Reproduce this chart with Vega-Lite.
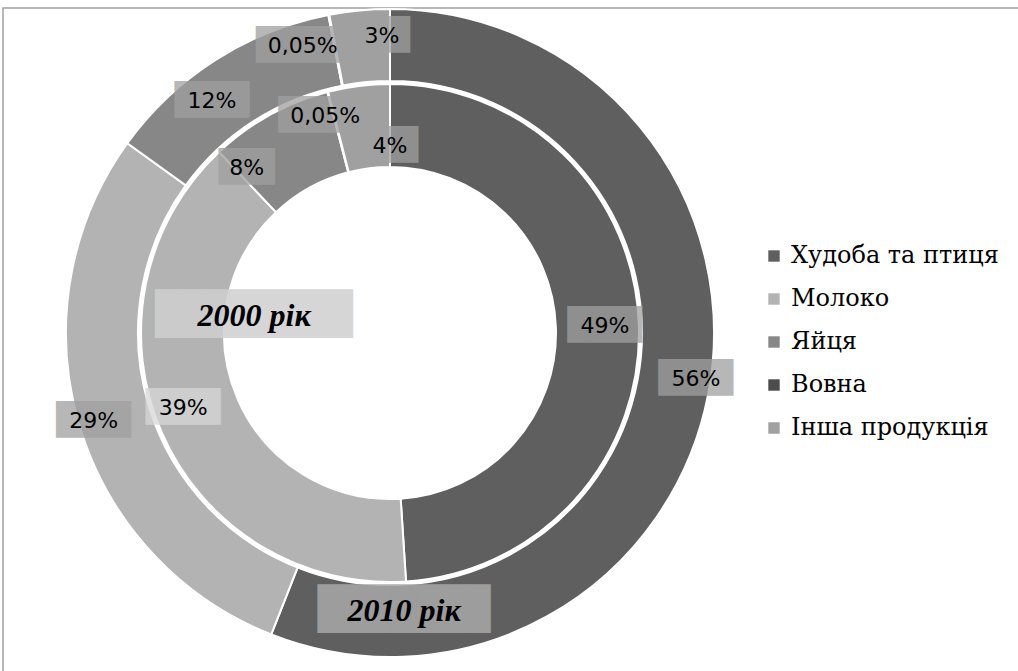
{
  "$schema": "https://vega.github.io/schema/vega-lite/v6.json",
  "width": 1016,
  "height": 668,
  "padding": {"left": 3, "top": 5, "right": 0, "bottom": 0},
  "background": "white",
  "view": {"stroke": "#a0a0a0", "strokeWidth": 1.5},
  "config": {
    "locale": {"number": {"decimal": ",", "thousands": " ", "grouping": [3], "currency": ["", " грн"]}}
  },
  "datasets": {
    "shares": [
      {"ring": "outer", "year": "2010", "n": 1, "category": "Худоба та птиця", "value": 0.56},
      {"ring": "outer", "year": "2010", "n": 2, "category": "Молоко", "value": 0.29},
      {"ring": "outer", "year": "2010", "n": 3, "category": "Яйця", "value": 0.12},
      {"ring": "outer", "year": "2010", "n": 4, "category": "Вовна", "value": 0.0005},
      {"ring": "outer", "year": "2010", "n": 5, "category": "Інша продукція", "value": 0.03},
      {"ring": "inner", "year": "2000", "n": 1, "category": "Худоба та птиця", "value": 0.49},
      {"ring": "inner", "year": "2000", "n": 2, "category": "Молоко", "value": 0.39},
      {"ring": "inner", "year": "2000", "n": 3, "category": "Яйця", "value": 0.08},
      {"ring": "inner", "year": "2000", "n": 4, "category": "Вовна", "value": 0.0005},
      {"ring": "inner", "year": "2000", "n": 5, "category": "Інша продукція", "value": 0.04}
    ],
    "years": [
      {"ring": "inner", "title": "2000 рік"},
      {"ring": "outer", "title": "2010 рік"}
    ]
  },
  "layer": [
    {
      "data": {"name": "shares"},
      "transform": [{"filter": "datum.ring == 'outer'"}],
      "mark": {"type": "arc", "x": 387, "y": 325, "outerRadius": 324, "innerRadius": 252, "stroke": "white", "strokeWidth": 2},
      "encoding": {
        "theta": {"field": "value", "type": "quantitative", "stack": true},
        "order": {"field": "n", "type": "quantitative"},
        "color": {
          "field": "category", "type": "nominal",
          "scale": {
            "domain": ["Худоба та птиця", "Молоко", "Яйця", "Вовна", "Інша продукція"],
            "range": ["#5f5f5f", "#b3b3b3", "#878787", "#4d4d4d", "#a0a0a0"]
          },
          "legend": {
            "orient": "none", "legendX": 759, "legendY": 236, "title": null,
            "symbolType": "square", "symbolSize": 130, "symbolStrokeWidth": 0,
            "labelFont": "DejaVu Serif", "labelFontSize": 24, "labelColor": "black", "labelLimit": 400,
            "rowPadding": 19, "padding": 0, "labelOffset": 5
          }
        }
      }
    },
    {
      "data": {"name": "shares"},
      "transform": [{"filter": "datum.ring == 'inner'"}],
      "mark": {"type": "arc", "x": 387, "y": 325, "outerRadius": 249, "innerRadius": 166, "stroke": "white", "strokeWidth": 2},
      "encoding": {
        "theta": {"field": "value", "type": "quantitative", "stack": true},
        "order": {"field": "n", "type": "quantitative"},
        "color": {"field": "category", "type": "nominal"}
      }
    },
    {
      "data": {"name": "shares"},
      "transform": [{"filter": "datum.ring == 'outer'"}],
      "encoding": {
        "theta": {"field": "value", "type": "quantitative", "stack": true},
        "order": {"field": "n", "type": "quantitative"},
        "detail": {"field": "category", "type": "nominal"}
      },
      "layer": [
        {"mark": {"type": "text", "x": 387, "y": 325, "radius": 288, "dx": 23, "dy": -8, "font": "DejaVu Sans Mono", "fontSize": 31, "color": "#a0a0a0", "opacity": 0.75},
         "encoding": {"text": {"condition": {"test": "datum.n == 1", "value": "████"}, "value": ""}}},
        {"mark": {"type": "text", "x": 387, "y": 325, "radius": 288, "dx": -20, "dy": 7, "font": "DejaVu Sans Mono", "fontSize": 31, "color": "#a0a0a0", "opacity": 0.75},
         "encoding": {"text": {"condition": {"test": "datum.n == 2", "value": "████"}, "value": ""}}},
        {"mark": {"type": "text", "x": 387, "y": 325, "radius": 288, "dx": -23, "dy": 11, "font": "DejaVu Sans Mono", "fontSize": 31, "color": "#a0a0a0", "opacity": 0.75},
         "encoding": {"text": {"condition": {"test": "datum.n == 3", "value": "████"}, "value": ""}}},
        {"mark": {"type": "text", "x": 387, "y": 325, "radius": 288, "dx": -33, "dy": -4, "font": "DejaVu Sans Mono", "fontSize": 31, "color": "#a0a0a0", "opacity": 0.75},
         "encoding": {"text": {"condition": {"test": "datum.n == 4", "value": "█████"}, "value": ""}}},
        {"mark": {"type": "text", "x": 387, "y": 325, "radius": 288, "dx": 19, "dy": -10, "font": "DejaVu Sans Mono", "fontSize": 31, "color": "#a0a0a0", "opacity": 0.75},
         "encoding": {"text": {"condition": {"test": "datum.n == 5", "value": "███"}, "value": ""}}},
        {"mark": {"type": "text", "x": 387, "y": 325, "radius": 288, "dx": 23, "dy": -8, "font": "DejaVu Sans", "fontSize": 22, "color": "black"},
         "encoding": {"text": {"condition": {"test": "datum.n == 1", "field": "value", "type": "quantitative", "format": ".2~%"}, "value": ""}}},
        {"mark": {"type": "text", "x": 387, "y": 325, "radius": 288, "dx": -20, "dy": 7, "font": "DejaVu Sans", "fontSize": 22, "color": "black"},
         "encoding": {"text": {"condition": {"test": "datum.n == 2", "field": "value", "type": "quantitative", "format": ".2~%"}, "value": ""}}},
        {"mark": {"type": "text", "x": 387, "y": 325, "radius": 288, "dx": -23, "dy": 11, "font": "DejaVu Sans", "fontSize": 22, "color": "black"},
         "encoding": {"text": {"condition": {"test": "datum.n == 3", "field": "value", "type": "quantitative", "format": ".2~%"}, "value": ""}}},
        {"mark": {"type": "text", "x": 387, "y": 325, "radius": 288, "dx": -33, "dy": -4, "font": "DejaVu Sans", "fontSize": 22, "color": "black"},
         "encoding": {"text": {"condition": {"test": "datum.n == 4", "field": "value", "type": "quantitative", "format": ".2~%"}, "value": ""}}},
        {"mark": {"type": "text", "x": 387, "y": 325, "radius": 288, "dx": 19, "dy": -10, "font": "DejaVu Sans", "fontSize": 22, "color": "black"},
         "encoding": {"text": {"condition": {"test": "datum.n == 5", "field": "value", "type": "quantitative", "format": ".2~%"}, "value": ""}}}
      ]
    },
    {
      "data": {"name": "shares"},
      "transform": [{"filter": "datum.ring == 'inner'"}],
      "encoding": {
        "theta": {"field": "value", "type": "quantitative", "stack": true},
        "order": {"field": "n", "type": "quantitative"},
        "detail": {"field": "category", "type": "nominal"}
      },
      "layer": [
        {"mark": {"type": "text", "x": 387, "y": 325, "radius": 207, "dx": 8, "dy": 0, "font": "DejaVu Sans Mono", "fontSize": 31, "color": "#a0a0a0", "opacity": 0.75},
         "encoding": {"text": {"condition": {"test": "datum.n == 1", "value": "████"}, "value": ""}}},
        {"mark": {"type": "text", "x": 387, "y": 325, "radius": 207, "dx": -17, "dy": -8, "font": "DejaVu Sans Mono", "fontSize": 31, "color": "#d8d8d8", "opacity": 0.75},
         "encoding": {"text": {"condition": {"test": "datum.n == 2", "value": "████"}, "value": ""}}},
        {"mark": {"type": "text", "x": 387, "y": 325, "radius": 207, "dx": -43, "dy": 16, "font": "DejaVu Sans Mono", "fontSize": 31, "color": "#a0a0a0", "opacity": 0.75},
         "encoding": {"text": {"condition": {"test": "datum.n == 3", "value": "███"}, "value": ""}}},
        {"mark": {"type": "text", "x": 387, "y": 325, "radius": 207, "dx": -13, "dy": -17, "font": "DejaVu Sans Mono", "fontSize": 31, "color": "#a0a0a0", "opacity": 0.75},
         "encoding": {"text": {"condition": {"test": "datum.n == 4", "value": "█████"}, "value": ""}}},
        {"mark": {"type": "text", "x": 387, "y": 325, "radius": 207, "dx": 26, "dy": 18, "font": "DejaVu Sans Mono", "fontSize": 31, "color": "#a0a0a0", "opacity": 0.75},
         "encoding": {"text": {"condition": {"test": "datum.n == 5", "value": "███"}, "value": ""}}},
        {"mark": {"type": "text", "x": 387, "y": 325, "radius": 207, "dx": 8, "dy": 0, "font": "DejaVu Sans", "fontSize": 22, "color": "black"},
         "encoding": {"text": {"condition": {"test": "datum.n == 1", "field": "value", "type": "quantitative", "format": ".2~%"}, "value": ""}}},
        {"mark": {"type": "text", "x": 387, "y": 325, "radius": 207, "dx": -17, "dy": -8, "font": "DejaVu Sans", "fontSize": 22, "color": "black"},
         "encoding": {"text": {"condition": {"test": "datum.n == 2", "field": "value", "type": "quantitative", "format": ".2~%"}, "value": ""}}},
        {"mark": {"type": "text", "x": 387, "y": 325, "radius": 207, "dx": -43, "dy": 16, "font": "DejaVu Sans", "fontSize": 22, "color": "black"},
         "encoding": {"text": {"condition": {"test": "datum.n == 3", "field": "value", "type": "quantitative", "format": ".2~%"}, "value": ""}}},
        {"mark": {"type": "text", "x": 387, "y": 325, "radius": 207, "dx": -13, "dy": -17, "font": "DejaVu Sans", "fontSize": 22, "color": "black"},
         "encoding": {"text": {"condition": {"test": "datum.n == 4", "field": "value", "type": "quantitative", "format": ".2~%"}, "value": ""}}},
        {"mark": {"type": "text", "x": 387, "y": 325, "radius": 207, "dx": 26, "dy": 18, "font": "DejaVu Sans", "fontSize": 22, "color": "black"},
         "encoding": {"text": {"condition": {"test": "datum.n == 5", "field": "value", "type": "quantitative", "format": ".2~%"}, "value": ""}}}
      ]
    },
    {
      "data": {"name": "years"},
      "transform": [{"filter": "datum.ring == 'inner'"}],
      "mark": {"type": "text", "x": 387, "y": 325, "theta": 4.837, "radius": 137, "font": "DejaVu Sans Mono", "fontSize": 41, "color": "#d0d0d0", "opacity": 0.85},
      "encoding": {"text": {"value": "████████"}}
    },
    {
      "data": {"name": "years"},
      "transform": [{"filter": "datum.ring == 'outer'"}],
      "mark": {"type": "text", "x": 387, "y": 325, "theta": 3.091, "radius": 278, "font": "DejaVu Sans Mono", "fontSize": 41, "color": "#a8a8a8", "opacity": 0.85},
      "encoding": {"text": {"value": "███████"}}
    },
    {
      "data": {"name": "years"},
      "transform": [{"filter": "datum.ring == 'inner'"}],
      "mark": {"type": "text", "x": 387, "y": 325, "theta": 4.837, "radius": 137, "font": "Liberation Serif", "fontStyle": "italic", "fontWeight": "bold", "fontSize": 32, "color": "black"},
      "encoding": {"text": {"field": "title", "type": "nominal"}}
    },
    {
      "data": {"name": "years"},
      "transform": [{"filter": "datum.ring == 'outer'"}],
      "mark": {"type": "text", "x": 387, "y": 325, "theta": 3.091, "radius": 278, "font": "Liberation Serif", "fontStyle": "italic", "fontWeight": "bold", "fontSize": 32, "color": "black"},
      "encoding": {"text": {"field": "title", "type": "nominal"}}
    }
  ]
}
